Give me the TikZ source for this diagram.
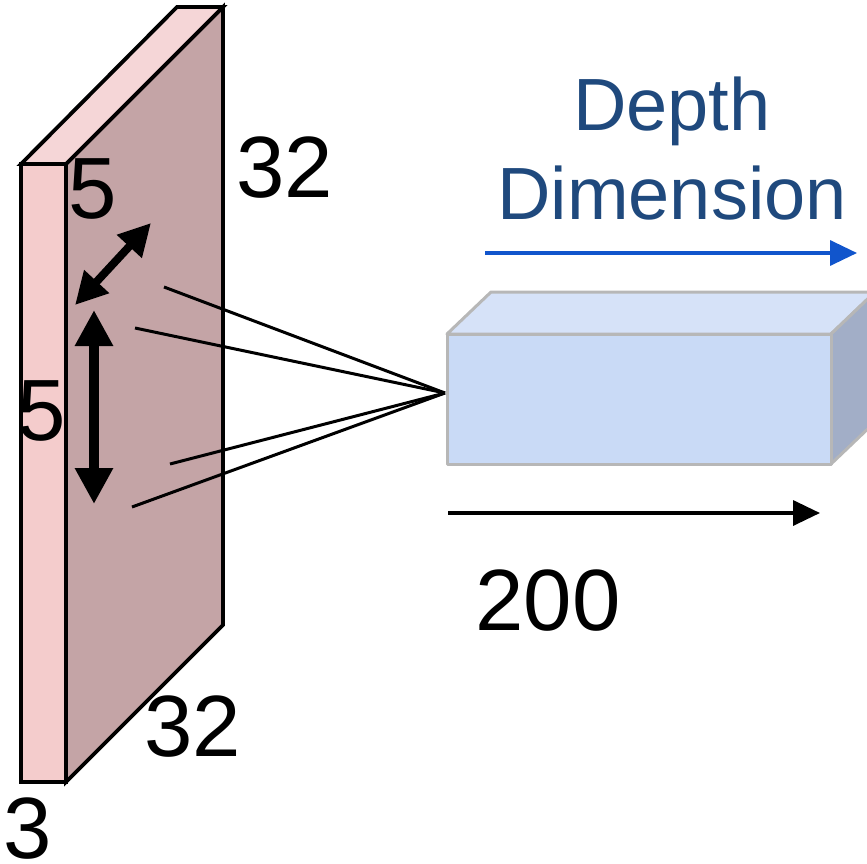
\documentclass[tikz,border=0pt]{standalone}
\usepackage{fontspec}
\setmainfont{Liberation Sans}
\usetikzlibrary{arrows.meta}
\definecolor{slabfront}{HTML}{F4CCCC}
\definecolor{slabtop}{HTML}{F5D6D7}
\definecolor{slabside}{HTML}{C4A4A6}
\definecolor{boxfront}{HTML}{C9DAF6}
\definecolor{boxtop}{HTML}{D6E2F8}
\definecolor{boxside}{HTML}{A2AEC7}
\definecolor{boxedge}{HTML}{B7B7B7}
\definecolor{deptext}{HTML}{1F497D}
\definecolor{deparrow}{HTML}{1155CC}
\begin{document}
\begin{tikzpicture}[x=1pt,y=-1pt,
  bignum/.style={font=\fontsize{87}{100}\selectfont, anchor=base, inner sep=0pt},
  bluetxt/.style={font=\fontsize{74}{88}\selectfont, text=deptext, anchor=base, inner sep=0pt},
  slabedge/.style={draw=black, line width=3.8pt, line join=miter},
  boxface/.style={draw=boxedge, line width=3pt, line join=round},
  ray/.style={draw=black, line width=3pt},
  dimarrow/.style={line width=10pt, {Triangle[length=36pt,width=36pt]}-{Triangle[length=36pt,width=36pt]}},
  diagarrow/.style={line width=8pt, {Triangle[length=32pt,width=32pt]}-{Triangle[length=32pt,width=32pt]}},
  axisarrow/.style={line width=3.5pt, -{Triangle[length=27pt,width=25pt]}}
]
\useasboundingbox (0,0) rectangle (867,864);

% slab
\filldraw[slabedge, fill=slabside] (66,164) -- (223,7) -- (223,625) -- (66,782) -- cycle;
\filldraw[slabedge, fill=slabtop] (21,164) -- (177,7) -- (223,7) -- (66,164) -- cycle;
\filldraw[slabedge, fill=slabfront] (21,164) rectangle (66,782);

% output box
\filldraw[boxface, fill=boxtop] (447,334) -- (491,292) -- (875,292) -- (831,334) -- cycle;
\filldraw[boxface, fill=boxside] (831,334) -- (875,292) -- (875,422) -- (831,464) -- cycle;
\filldraw[boxface, fill=boxfront] (447,334) rectangle (831,464);

% receptive field rays
\coordinate (apex) at (445,393);
\coordinate (p1) at (164,287);
\coordinate (p2) at (135,328);
\coordinate (p3) at (170,464);
\coordinate (p4) at (132,507);
\draw[ray] (p1) -- (apex);
\draw[ray] (p2) -- (apex);
\draw[ray] (p3) -- (apex);
\draw[ray] (p4) -- (apex);

% filter size arrows
\coordinate (da) at (75,305);
\coordinate (db) at (151,223);
\coordinate (va) at (94,310);
\coordinate (vb) at (94,504);
\draw[diagarrow] (da) -- (db);
\draw[dimarrow] (va) -- (vb);

% axis arrows
\coordinate (ba) at (485,253);
\coordinate (bb) at (857,253);
\draw[axisarrow, draw=deparrow, fill=deparrow] (ba) -- (bb);
\coordinate (ka) at (448,513);
\coordinate (kb) at (820,513);
\draw[axisarrow] (ka) -- (kb);

% labels
\node[bignum] (w) at (285,197) {32};
\node[bignum] (f1) at (93,218) {5};
\node[bignum] (f2) at (42,440) {5};
\node[bignum] (h) at (193,756) {32};
\node[bignum] (d) at (28,858) {3};
\node[bignum] (n) at (548,630) {200};
\node[bluetxt] (t1) at (672,131) {Depth};
\node[bluetxt] (t2) at (672,219) {Dimension};
\end{tikzpicture}
\end{document}
